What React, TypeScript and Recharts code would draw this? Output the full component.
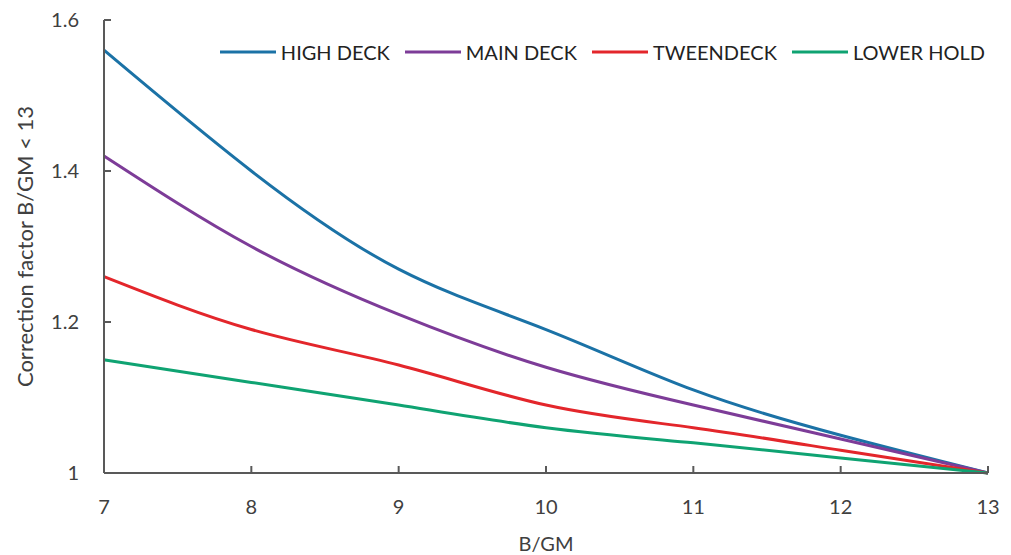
import React from 'react'
import { LineChart, Line, XAxis, YAxis } from 'recharts'

const bgm = [7, 8, 9, 10, 11, 12, 13]
const highDeck = [1.56, 1.4, 1.27, 1.19, 1.11, 1.05, 1.0]
const mainDeck = [1.42, 1.3, 1.21, 1.14, 1.09, 1.045, 1.0]
const tweenDeck = [1.26, 1.19, 1.143, 1.09, 1.06, 1.03, 1.0]
const lowerHold = [1.15, 1.12, 1.09, 1.06, 1.04, 1.02, 1.0]

const xTicks = [7, 8, 9, 10, 11, 12, 13]
const yTicks = [1, 1.2, 1.4, 1.6]

const data = bgm.map((x, i) => ({
  x,
  high: highDeck[i],
  main: mainDeck[i],
  tween: tweenDeck[i],
  lower: lowerHold[i],
}))

const series = [
  { key: 'high', name: 'HIGH DECK', color: '#1b72a6' },
  { key: 'main', name: 'MAIN DECK', color: '#7d3c98' },
  { key: 'tween', name: 'TWEENDECK', color: '#e3262b' },
  { key: 'lower', name: 'LOWER HOLD', color: '#0fa372' },
]

const FONT = 'Lato, "Open Sans", sans-serif'
const AXIS = '#595959'
const TEXT = '#404040'

const XTick = (props: any) => {
  const { x, y, payload } = props
  return (
    <g>
      <line x1={x} x2={x} y1={y} y2={y - 7} stroke={AXIS} strokeWidth={2} />
      <text x={x} y={y + 41} textAnchor='middle' fontSize={20} fill={TEXT} fontFamily={FONT}>
        {payload.value}
      </text>
    </g>
  )
}

const YTick = (props: any) => {
  const { x, y, payload } = props
  return (
    <g>
      <line x1={x} x2={x + 7} y1={y} y2={y} stroke={AXIS} strokeWidth={2} />
      <text x={x - 25} y={y + 7} textAnchor='end' fontSize={20} fill={TEXT} fontFamily={FONT}>
        {payload.value}
      </text>
    </g>
  )
}

export default function App() {
  return (
    <div style={{ position: 'absolute', left: 0, top: 0, width: 1011, height: 555, background: '#fff' }}>
      <LineChart
        width={1011}
        height={555}
        data={data}
        margin={{ top: 20, right: 23, bottom: 0, left: 0 }}
      >
        <XAxis
          dataKey='x'
          type='number'
          domain={[7, 13]}
          ticks={xTicks}
          height={82}
          tickSize={0}
          tickMargin={0}
          tickLine={false}
          tick={<XTick />}
          stroke={AXIS}
          strokeWidth={2}
          label={{ value: 'B/GM', position: 'insideBottom', offset: 4, fontSize: 20, fill: TEXT, fontFamily: FONT }}
        />
        <YAxis
          type='number'
          domain={[1, 1.6]}
          ticks={yTicks}
          width={104}
          tickSize={0}
          tickMargin={0}
          tickLine={false}
          tick={<YTick />}
          stroke={AXIS}
          strokeWidth={2}
          label={{ value: 'Correction factor B/GM < 13', angle: -90, position: 'center', dx: -27, fontSize: 22, fill: TEXT, fontFamily: FONT }}
        />
        {series.map((s) => (
          <Line
            key={s.key}
            type='natural'
            dataKey={s.key}
            name={s.name}
            stroke={s.color}
            strokeWidth={3}
            dot={false}
            isAnimationActive={false}
          />
        ))}
      </LineChart>
      <div
        style={{
          position: 'absolute',
          top: 40,
          right: 26,
          display: 'flex',
          fontFamily: FONT,
          fontSize: 20,
          color: '#222',
          lineHeight: '24px',
        }}
      >
        {series.map((s) => (
          <div key={s.key} style={{ display: 'flex', alignItems: 'center', marginLeft: 15 }}>
            <svg width={56} height={4} style={{ marginRight: 5 }}>
              <line x1={0} x2={56} y1={2} y2={2} stroke={s.color} strokeWidth={3} />
            </svg>
            <span>{s.name}</span>
          </div>
        ))}
      </div>
    </div>
  )
}
